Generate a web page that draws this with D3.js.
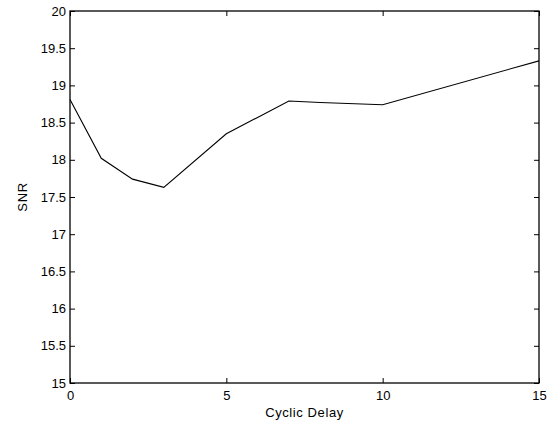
<!DOCTYPE html>
<html>
<head>
<meta charset="utf-8">
<script src="https://cdn.jsdelivr.net/npm/d3@7"></script>
<style>
  html, body { margin: 0; padding: 0; background: #fff; }
  svg text { font-family: "Liberation Sans", Arial, Helvetica, sans-serif; fill: #000; }
</style>
</head>
<body>
<svg id="chart" width="550" height="425"></svg>
<script>
// Cyclic delay vs. SNR
const delays = [0, 1, 2, 3, 5, 7, 8, 10, 15];
const snr = [18.81, 18.02, 17.74, 17.63, 18.35, 18.79, 18.77, 18.74, 19.33];
const xTicks = [0, 5, 10, 15];
const yTicks = [15, 15.5, 16, 16.5, 17, 17.5, 18, 18.5, 19, 19.5, 20];

const margin = { left: 70, right: 11, top: 11, bottom: 42 };
const W = 550, H = 425;
const svg = d3.select("#chart");

const x = d3.scaleLinear().domain([0, 15]).range([margin.left, W - margin.right]);
const y = d3.scaleLinear().domain([15, 20]).range([H - margin.bottom, margin.top]);

const tickLen = 5;
const fmt = d => String(d);

// bottom axis (ticks pointing inward)
const gb = svg.append("g").attr("transform", `translate(0,${y(15)})`)
  .call(d3.axisBottom(x).tickValues(xTicks).tickFormat(fmt).tickSizeInner(-tickLen).tickSizeOuter(0).tickPadding(8));
// top axis
const gt = svg.append("g").attr("transform", `translate(0,${y(20)})`)
  .call(d3.axisTop(x).tickValues(xTicks).tickFormat("").tickSizeInner(-tickLen).tickSizeOuter(0));
// left axis
const gl = svg.append("g").attr("transform", `translate(${x(0)},0)`)
  .call(d3.axisLeft(y).tickValues(yTicks).tickFormat(fmt).tickSizeInner(-tickLen).tickSizeOuter(0).tickPadding(4));
// right axis
const gr = svg.append("g").attr("transform", `translate(${x(15)},0)`)
  .call(d3.axisRight(y).tickValues(yTicks).tickFormat("").tickSizeInner(-tickLen).tickSizeOuter(0));

[gb, gt, gl, gr].forEach(g => {
  g.select(".domain").remove();
  g.selectAll("line").attr("stroke", "#000").attr("stroke-width", 1);
  g.selectAll("text").style("font-size", "13px").attr("fill", "#000");
});
gb.selectAll("text").attr("dy", "0.71em");

// frame
svg.append("rect")
  .attr("x", x(0)).attr("y", y(20))
  .attr("width", x(15) - x(0)).attr("height", y(15) - y(20))
  .attr("fill", "none").attr("stroke", "#000").attr("stroke-width", 1.3);

// data line
const line = d3.line().x((d, i) => x(delays[i])).y(d => y(d));
svg.append("path")
  .datum(snr)
  .attr("d", line)
  .attr("fill", "none")
  .attr("stroke", "#000")
  .attr("stroke-width", 1.1);

// axis titles
svg.append("text")
  .attr("x", (x(0) + x(15)) / 2).attr("y", 417)
  .attr("text-anchor", "middle").style("font-size", "13px")
  .style("letter-spacing", "0.6px")
  .text("Cyclic Delay");
svg.append("text")
  .attr("transform", `translate(27,${(y(15) + y(20)) / 2}) rotate(-90)`)
  .attr("text-anchor", "middle").style("font-size", "13px")
  .style("letter-spacing", "0.6px")
  .text("SNR");
</script>
</body>
</html>
